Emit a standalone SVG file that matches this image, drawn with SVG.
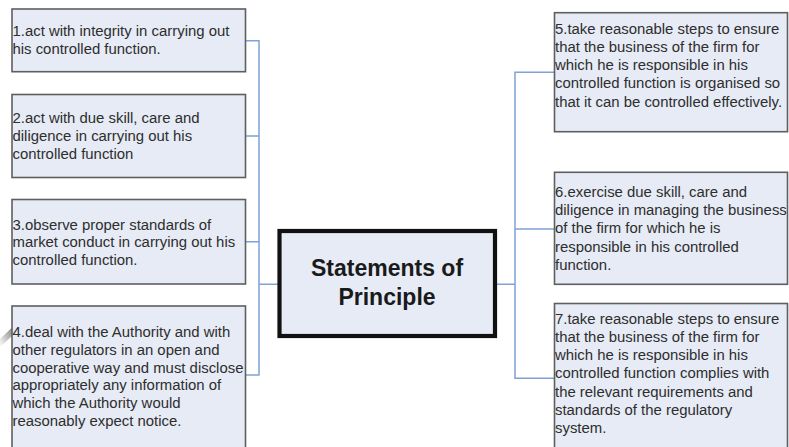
<svg xmlns="http://www.w3.org/2000/svg" width="789" height="447" viewBox="0 0 789 447">
<style>
.box{fill:#e6ebf5;stroke:#5f5f5f;stroke-width:1.6}
.t{font-family:"Liberation Sans",Arial,sans-serif;font-size:14.9px;fill:#2e2e2e}
.c{fill:none;stroke:#7fa2d8;stroke-width:1.5}
.main{fill:#e6ebf5;stroke:#111;stroke-width:4.2}
.mt{font-family:"Liberation Sans",Arial,sans-serif;font-size:23px;font-weight:bold;fill:#1a1a1a;text-anchor:middle}
</style>
<defs>
<linearGradient id="g" x1="0" y1="1" x2="1" y2="0">
<stop offset="0" stop-color="#ffffff"/>
<stop offset="1" stop-color="#8a8a8a"/>
</linearGradient>
</defs>
<rect width="789" height="447" fill="#ffffff"/>
<polygon points="0,339 12,327.5 12,336 0,347" fill="url(#g)"/>
<g id="connectors">
<path class="c" d="M245.5,40.7H259V375H245.5M245.5,136H259M245.5,241.7H259M259,284.3H279"/>
<path class="c" d="M496,284.3H515M554.5,72.3H515V378.3H554.5M515,229H554.5"/>
</g>
<g id="n1"><rect class="box" x="12" y="9" width="233.5" height="62.7"/>
<text class="t" x="12.5"><tspan x="12.5" y="36">1.act with integrity in carrying out</tspan><tspan x="12.5" y="53.8">his controlled function.</tspan></text></g>
<g id="n2"><rect class="box" x="12" y="94.5" width="233.5" height="83"/>
<text class="t"><tspan x="12.5" y="122.5">2.act with due skill, care and</tspan><tspan x="12.5" y="140.6">diligence in carrying out his</tspan><tspan x="12.5" y="158.7">controlled function</tspan></text></g>
<g id="n3"><rect class="box" x="12" y="199.5" width="233.5" height="84.5"/>
<text class="t"><tspan x="12.5" y="229.5">3.observe proper standards of</tspan><tspan x="12.5" y="247.3">market conduct in carrying out his</tspan><tspan x="12.5" y="265.1">controlled function.</tspan></text></g>
<g id="n4"><rect class="box" x="12" y="306" width="233.5" height="160"/>
<text class="t"><tspan x="12.5" y="337">4.deal with the Authority and with</tspan><tspan x="12.5" y="354.8">other regulators in an open and</tspan><tspan x="12.5" y="372.6">cooperative way and must disclose</tspan><tspan x="12.5" y="390.4">appropriately any information of</tspan><tspan x="12.5" y="408.2">which the Authority would</tspan><tspan x="12.5" y="426">reasonably expect notice.</tspan></text></g>
<g id="center"><rect class="main" x="279.5" y="231" width="215.5" height="105"/>
<text class="mt"><tspan x="387" y="276">Statements of</tspan><tspan x="387" y="305">Principle</tspan></text></g>
<g id="n5"><rect class="box" x="554.5" y="12.7" width="233" height="119"/>
<text class="t"><tspan x="555" y="33.5">5.take reasonable steps to ensure</tspan><tspan x="555" y="51.8">that the business of the firm for</tspan><tspan x="555" y="70.1">which he is responsible in his</tspan><tspan x="555" y="88.4">controlled function is organised so</tspan><tspan x="555" y="106.7">that it can be controlled effectively.</tspan></text></g>
<g id="n6"><rect class="box" x="554.5" y="172.3" width="233" height="112"/>
<text class="t"><tspan x="555" y="197">6.exercise due skill, care and</tspan><tspan x="555" y="215.2">diligence in managing the business</tspan><tspan x="555" y="233.4">of the firm for which he is</tspan><tspan x="555" y="251.6">responsible in his controlled</tspan><tspan x="555" y="269.8">function.</tspan></text></g>
<g id="n7"><rect class="box" x="554.5" y="303.5" width="233" height="160"/>
<text class="t"><tspan x="555" y="323.5">7.take reasonable steps to ensure</tspan><tspan x="555" y="341.8">that the business of the firm for</tspan><tspan x="555" y="360.1">which he is responsible in his</tspan><tspan x="555" y="378.4">controlled function complies with</tspan><tspan x="555" y="396.7">the relevant requirements and</tspan><tspan x="555" y="415">standards of the regulatory</tspan><tspan x="555" y="433.3">system.</tspan></text></g>
</svg>
